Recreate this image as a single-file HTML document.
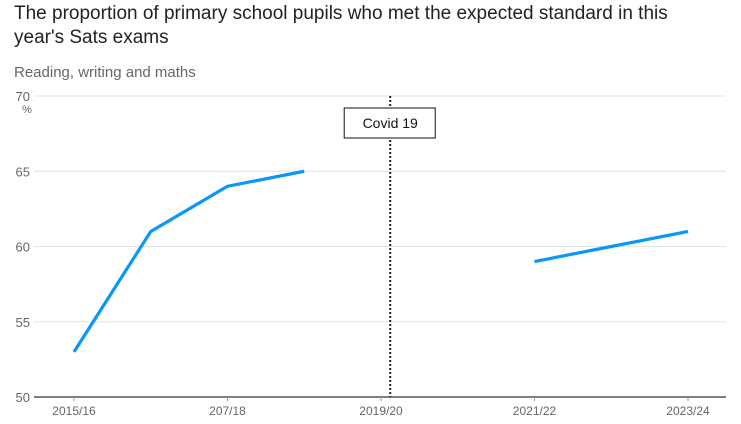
<!DOCTYPE html>
<html><head><meta charset="utf-8"><style>
body{margin:0;background:#fff;font-family:"Liberation Sans",sans-serif;}
#wrap{position:relative;width:741px;height:424px;overflow:hidden;}
h1{position:absolute;left:14px;top:2px;margin:0;font-size:19px;font-weight:normal;line-height:24px;color:#222;width:700px;}
.sub{position:absolute;left:14px;top:64px;font-size:15px;color:#666;}
</style></head><body><div id="wrap">
<h1>The proportion of primary school pupils who met the expected standard in this year's Sats exams</h1>
<div class="sub">Reading, writing and maths</div>
<svg id="c" width="741" height="424" style="position:absolute;left:0;top:0"></svg>
</div>
<script>
const categories=["2015/16","2016/17","207/18","2018/19","2019/20","2020/21","2021/22","2022/23","2023/24"];
const values=[53,61,64,65,null,null,59,60,61];
const tickLabels=["2015/16","207/18","2019/20","2021/22","2023/24"];
const tickIndex=[0,2,4,6,8];
const yTicks=[50,55,60,65,70];
const covidPos=4.12;
const NS="http://www.w3.org/2000/svg",svg=document.getElementById('c');
const x=i=>74+i*76.75, y=v=>397-(v-50)*15.05;
function el(t,a,p){const e=document.createElementNS(NS,t);for(const k in a)e.setAttribute(k,a[k]);(p||svg).appendChild(e);return e;}
yTicks.forEach(v=>{
 const g=el('line',{x1:34,x2:726,y1:y(v),y2:y(v),stroke:v===50?'#555':'#e2e2e2','stroke-width':v===50?1.5:1});
 
 
 const t=el('text',{x:30,y:y(v)+5,'text-anchor':'end','font-size':13,fill:'#666','font-family':'Liberation Sans'});
 t.textContent=v;
 
 
});
const pc=el('text',{x:27,y:113,'text-anchor':'middle','font-size':11,fill:'#666'});pc.textContent='%';


tickIndex.forEach((ix,k)=>{
 el('line',{x1:x(ix),x2:x(ix),y1:397,y2:401,stroke:'#999'});
 const t=el('text',{x:x(ix),y:415,'text-anchor':'middle','font-size':12,fill:'#666','font-family':'Liberation Sans'});
 t.textContent=tickLabels[k];
 
 
});
const cx=x(covidPos);
const cl=el('line',{x1:cx,x2:cx,y1:96,y2:397,stroke:'#222','stroke-width':2,'stroke-dasharray':'2,2'});


const cb=el('rect',{x:cx-46,y:108,width:91,height:30,fill:'#fff',stroke:'#111','stroke-width':1});


const ct=el('text',{x:cx,y:128,'text-anchor':'middle','font-size':14,fill:'#111'});ct.textContent='Covid 19';


let segs=[],cur=[];
values.forEach((v,i)=>{if(v===null){if(cur.length)segs.push(cur);cur=[];}else cur.push(x(i)+','+y(v));});
if(cur.length)segs.push(cur);
segs.forEach(s=>{
 const p=el('polyline',{points:s.join(' '),fill:'none',stroke:'#0a97f5','stroke-width':3.2,'stroke-linejoin':'round'});
 
 
});
</script></body></html>
